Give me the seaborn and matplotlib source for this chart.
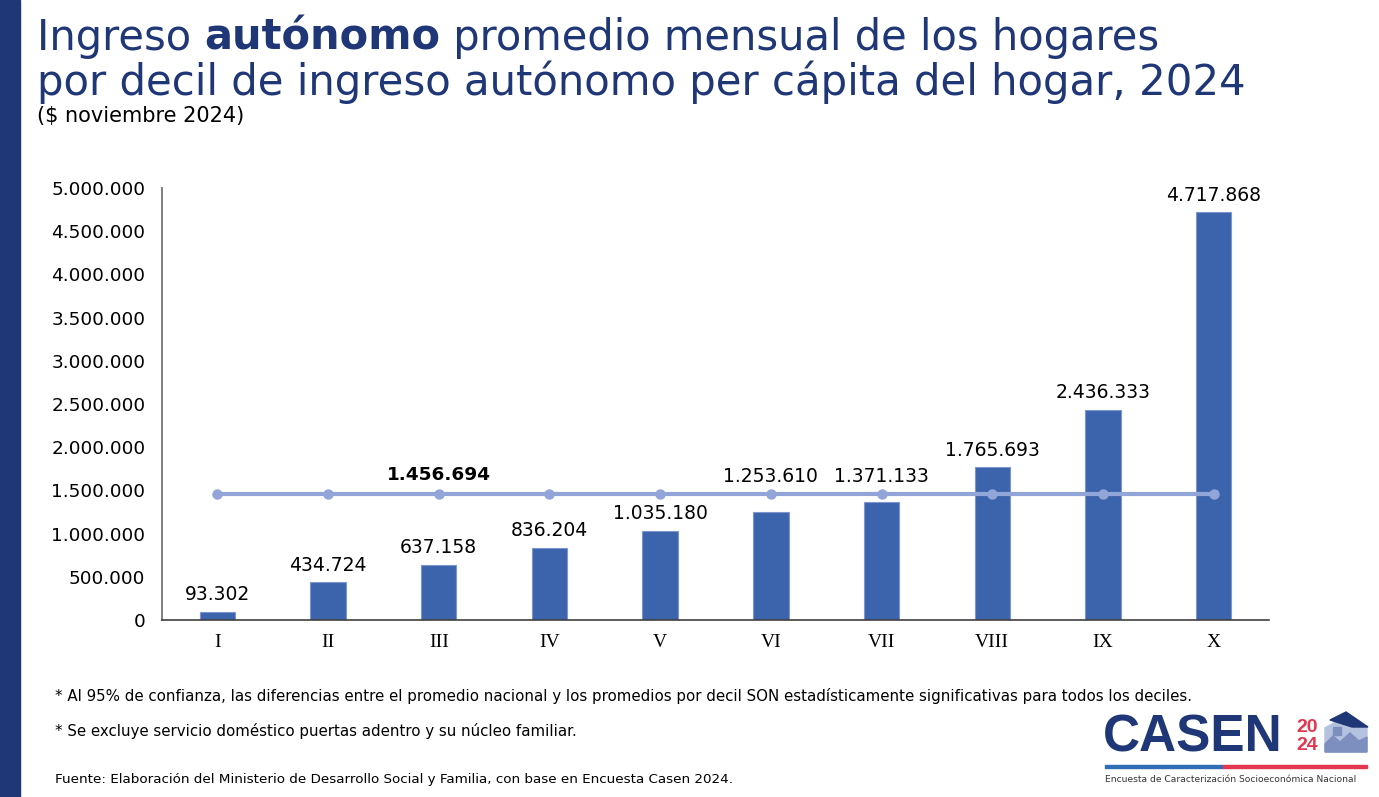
import numpy as np
import pandas as pd
import matplotlib
matplotlib.use('Agg')
import matplotlib.pyplot as plt
import matplotlib.patches as mpatches
from matplotlib.ticker import FuncFormatter
import seaborn as sns

# Data
deciles = ['I', 'II', 'III', 'IV', 'V', 'VI', 'VII', 'VIII', 'IX', 'X']
ingreso = [93302, 434724, 637158, 836204, 1035180, 1253610, 1371133, 1765693, 2436333, 4717868]
promedio_nacional = 1456694
y_ticks = [0, 500000, 1000000, 1500000, 2000000, 2500000, 3000000, 3500000, 4000000, 4500000, 5000000]

NAVY = '#1f3677'
BAR = '#3c64ac'
LINE = '#91a5d8'
RED = '#e2374f'

W, H = 1379, 797


def fx(px):
    return px / W


def fy(py):
    return 1 - py / H


def miles(v, pos=None):
    return f"{int(round(v)):,}".replace(',', '.')


sns.set_theme(style='white')
plt.rcParams['font.family'] = ['DejaVu Sans']

df = pd.DataFrame({'decil': deciles, 'ingreso': ingreso})

fig = plt.figure(figsize=(W / 100, H / 100), dpi=100)
ax = fig.add_axes([fx(162), fy(620), fx(1269) - fx(162), fy(188) - fy(620)])

sns.barplot(data=df, x='decil', y='ingreso', color=BAR, width=0.32,
            saturation=1, edgecolor='#7d96cf', linewidth=0.8, ax=ax)

# national average line with markers
xpos = np.arange(len(deciles))
ax.plot(xpos, [promedio_nacional] * len(deciles), color=LINE, lw=3,
        marker='o', markersize=6.5, zorder=5)
ax.annotate(miles(promedio_nacional), (2, promedio_nacional), xytext=(0, 14),
            textcoords='offset points', ha='center', va='center',
            fontsize=13.3, fontweight='bold', color='black')

# bar labels, lifted above the average line when the bar sits just below it
for i, v in enumerate(ingreso):
    base = v
    if v < promedio_nacional and promedio_nacional - v < 250000:
        base = promedio_nacional
    ax.annotate(miles(v), (i, base), xytext=(0, 12.5), textcoords='offset points',
                ha='center', va='center', fontsize=13.5, color='black', zorder=6)

ax.set_ylim(0, 5000000)
ax.set_xlim(-0.5, 9.5)
ax.set_yticks(y_ticks)
ax.yaxis.set_major_formatter(FuncFormatter(miles))
ax.set_xlabel('')
ax.set_ylabel('')
ax.tick_params(axis='y', length=0, labelsize=13.3, pad=12, labelcolor='black')
ax.tick_params(axis='x', length=0, pad=10, labelcolor='black')
for lab in ax.get_xticklabels():
    lab.set_fontfamily('Liberation Serif')
    lab.set_fontsize(14)
ax.grid(False)
for s in ['top', 'right']:
    ax.spines[s].set_visible(False)
ax.spines['left'].set_color('#7f7f7f')
ax.spines['left'].set_linewidth(1.4)
ax.spines['bottom'].set_color('#404040')
ax.spines['bottom'].set_linewidth(1.2)

# left navy band
fig.patches.append(mpatches.Rectangle((0, 0), fx(20), 1, transform=fig.transFigure,
                                      color=NAVY, zorder=0))

# title with a bold word
renderer = fig.canvas.get_renderer()
x0 = fx(37)
parts = [('Ingreso ', 'normal'), ('autónomo', 'bold'), (' promedio mensual de los hogares', 'normal')]
x = x0
for txt, wt in parts:
    t = fig.text(x, fy(50), txt, fontsize=30, fontweight=wt, color=NAVY,
                 ha='left', va='baseline')
    bb = t.get_window_extent(renderer=renderer)
    x += bb.width / W
fig.text(x0, fy(95), 'por decil de ingreso autónomo per cápita del hogar, 2024',
         fontsize=30.2, color=NAVY, ha='left', va='baseline')
fig.text(fx(37), fy(116), '($ noviembre 2024)', fontsize=15, color='black',
         ha='left', va='center')

# footnotes
fig.text(fx(55), fy(696), '* Al 95% de confianza, las diferencias entre el promedio nacional y los promedios por decil SON '
         'estadísticamente significativas para todos los deciles.', fontsize=10.85,
         color='black', ha='left', va='center')
fig.text(fx(55), fy(731), '* Se excluye servicio doméstico puertas adentro y su núcleo familiar.',
         fontsize=10.85, color='black', ha='left', va='center')
fig.text(fx(55), fy(780), 'Fuente: Elaboración del Ministerio de Desarrollo Social y Familia, con base en Encuesta Casen 2024.',
         fontsize=9.7, color='black', ha='left', va='center')

# CASEN 2024 logo
fig.text(fx(1103), fy(751), 'CASEN', fontsize=37, fontweight='bold', color=NAVY,
         family='Liberation Sans', ha='left', va='baseline')
fig.text(fx(1307), fy(736), '20', fontsize=14, fontweight='bold', color=RED,
         family='Liberation Sans', ha='center', va='bottom')
fig.text(fx(1307), fy(737), '24', fontsize=14, fontweight='bold', color=RED,
         family='Liberation Sans', ha='center', va='top')
house = mpatches.Polygon([(fx(1325), fy(752)), (fx(1325), fy(728)), (fx(1346), fy(716)),
                          (fx(1367), fy(728)), (fx(1367), fy(752))],
                         closed=True, transform=fig.transFigure, color='#b4c1df')
roof = mpatches.Polygon([(fx(1330), fy(720)), (fx(1346), fy(712)), (fx(1368), fy(727)),
                         (fx(1352), fy(727))],
                        closed=True, transform=fig.transFigure, color=NAVY)
mont = mpatches.Polygon([(fx(1325), fy(752)), (fx(1325), fy(744)), (fx(1333), fy(736)),
                         (fx(1340), fy(742)), (fx(1350), fy(733)), (fx(1359), fy(741)),
                         (fx(1367), fy(737)), (fx(1367), fy(752))],
                        closed=True, transform=fig.transFigure, color='#7d8fbf')
window = mpatches.Rectangle((fx(1333), fy(735)), fx(8), fy(727) - fy(735),
                            transform=fig.transFigure, color='#7d8fbf')
for p in [house, roof, mont, window]:
    fig.patches.append(p)
fig.patches.append(mpatches.Rectangle((fx(1105), fy(768)), fx(1223) - fx(1105), fy(765) - fy(768),
                                      transform=fig.transFigure, color='#2f6db5'))
fig.patches.append(mpatches.Rectangle((fx(1223), fy(768)), fx(1367) - fx(1223), fy(765) - fy(768),
                                      transform=fig.transFigure, color=RED))
fig.text(fx(1105), fy(780), 'Encuesta de Caracterización Socioeconómica Nacional', fontsize=6.6,
         color='#333333', ha='left', va='center')

fig.savefig('out.png', dpi=100, facecolor='white')
